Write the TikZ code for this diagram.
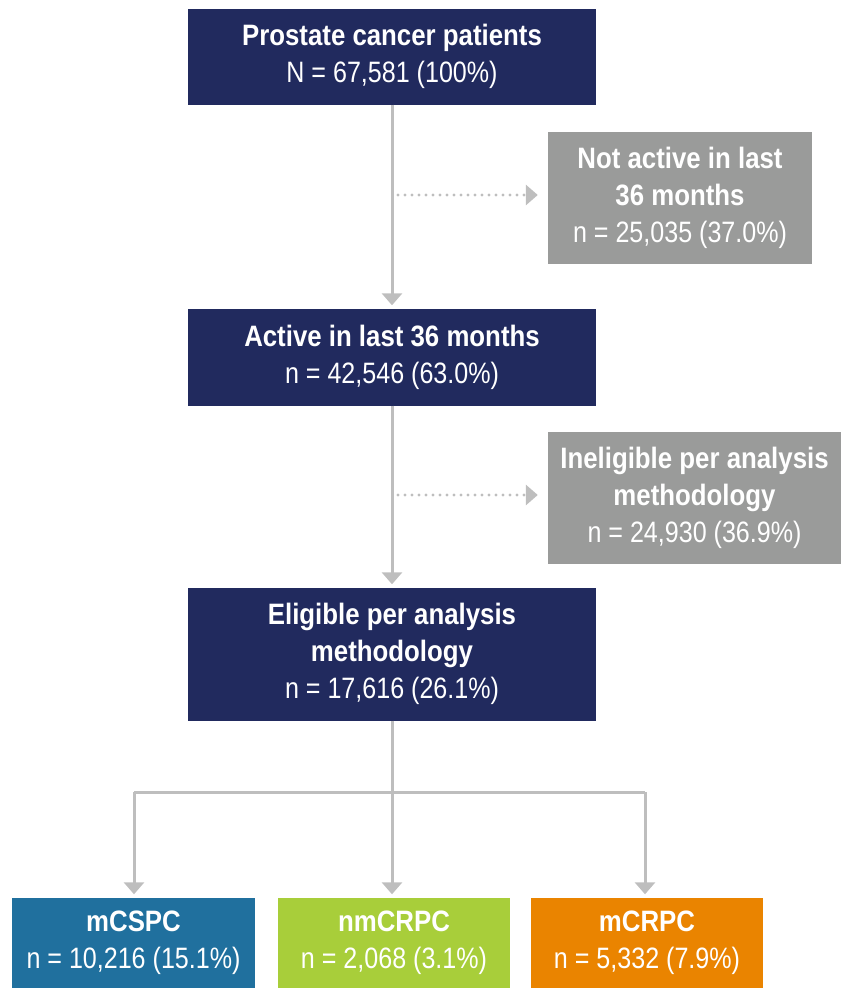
\documentclass[tikz,border=0pt]{standalone}
\usepackage{fontspec}
\setmainfont[FakeStretch=0.85, BoldFeatures={FakeStretch=0.875}]{Liberation Sans}
\usetikzlibrary{arrows.meta}
\definecolor{navy}{HTML}{212A5E}
\definecolor{greybox}{HTML}{9A9B9A}
\definecolor{linegrey}{HTML}{BEBEBE}
\definecolor{cblue}{HTML}{20709E}
\definecolor{cgreen}{HTML}{A8CE3A}
\definecolor{corange}{HTML}{EA8400}
\begin{document}
\begin{tikzpicture}[x=1pt,y=-1pt,
  box/.style={draw=none, inner sep=0pt, align=center, text=white,
    font=\fontsize{29.5}{37}\selectfont},
  arr/.style={draw=linegrey, line width=3pt, -{Triangle[width=20pt,length=12pt]}, shorten >=3pt},
  dotarr/.style={draw=linegrey, line width=3.2pt, line cap=round, dash pattern=on 0pt off 7pt,
    -{Triangle[width=20pt,length=12pt]}, shorten >=10pt},
  plain/.style={draw=linegrey, line width=3pt}]
\useasboundingbox (0,0) rectangle (841,988);
\node[box, fill=navy, minimum width=408pt, minimum height=96pt] (b1) at (392,56.5)
  {\textbf{Prostate cancer patients}\\N = 67,581 (100\%)};
\node[box, fill=greybox, minimum width=264pt, minimum height=132pt] (g1) at (680,197.5)
  {\textbf{Not active in last}\\\textbf{36 months}\\n = 25,035 (37.0\%)};
\node[box, fill=navy, minimum width=408pt, minimum height=97pt] (b2) at (392,357)
  {\textbf{Active in last 36 months}\\n = 42,546 (63.0\%)};
\node[box, fill=greybox, minimum width=293pt, minimum height=132pt] (g2) at (694.5,497.5)
  {\textbf{Ineligible per analysis}\\\textbf{methodology}\\n = 24,930 (36.9\%)};
\node[box, fill=navy, minimum width=408pt, minimum height=133pt] (b3) at (392,654)
  {\textbf{Eligible per analysis}\\\textbf{methodology}\\n = 17,616 (26.1\%)};
\node[box, fill=cblue, minimum width=243pt, minimum height=91pt] (c1) at (133.5,943)
  {\textbf{mCSPC}\\n = 10,216 (15.1\%)};
\node[box, fill=cgreen, minimum width=232pt, minimum height=91pt] (c2) at (394,943)
  {\textbf{nmCRPC}\\n = 2,068 (3.1\%)};
\node[box, fill=corange, minimum width=232pt, minimum height=91pt] (c3) at (647,943)
  {\textbf{mCRPC}\\n = 5,332 (7.9\%)};
% main flow
\draw[arr] (b1.south) -- (b2.north);
\draw[arr] (b2.south) -- (b3.north);
% dotted side arrows
\coordinate (d1) at (398,195);
\coordinate (d2) at (398,495);
\draw[dotarr] (d1) -- (d1 -| g1.west);
\draw[dotarr] (d2) -- (d2 -| g2.west);
% branching
\coordinate (split) at (392,792);
\coordinate (lft) at (134,792);
\coordinate (rgt) at (645,792);
\draw[plain] (b3.south) -- (split);
\draw[plain] (lft) -- (rgt);
\draw[arr] (lft) -- (lft |- c1.north);
\draw[arr] (split) -- (split |- c2.north);
\draw[arr] (rgt) -- (rgt |- c3.north);
\end{tikzpicture}
\end{document}
